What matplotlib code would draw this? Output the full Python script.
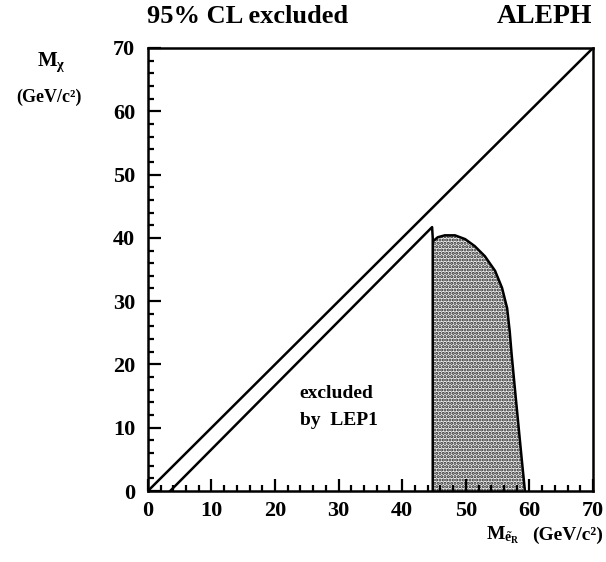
import numpy as np
import matplotlib
matplotlib.use('Agg')
from matplotlib import pyplot as plt
from matplotlib.ticker import MultipleLocator

# kinematic limit M_chi = M_selectron
diag_x = [0, 70]
diag_y = [0, 70]

# LEP1 exclusion edge
lep1_x = [3.5, 44.7, 44.8, 44.8]
lep1_y = [0.0, 41.7, 40.0, 0.0]

# 95% CL excluded region contour
excl_x = [45.0, 45.0, 45.6, 46.7, 48.3, 49.9, 51.4, 53.0, 54.6, 55.7, 56.5, 56.9, 57.2, 57.7, 58.2, 58.8, 59.3]
excl_y = [0.0, 39.6, 40.1, 40.4, 40.4, 39.8, 38.7, 37.1, 34.8, 32.1, 28.9, 25.3, 21.7, 16.4, 11.2, 5.0, 0.0]

plt.rcParams['font.family'] = ['Liberation Serif', 'DejaVu Serif']
plt.rcParams['font.weight'] = 'bold'
plt.rcParams['mathtext.fontset'] = 'custom'
plt.rcParams['mathtext.rm'] = 'Liberation Serif:bold'
plt.rcParams['mathtext.it'] = 'Liberation Serif:bold'
plt.rcParams['mathtext.bf'] = 'Liberation Serif:bold'
plt.rcParams['hatch.linewidth'] = 1.5

fig = plt.figure(figsize=(6.06, 5.62), dpi=100)
ax = fig.add_axes([0.244, 0.1263, 0.7345, 0.7883])

ax.fill(excl_x, excl_y, facecolor='#eeeeee', edgecolor='#222222', hatch='.....', linewidth=0)
ax.plot(excl_x[1:], excl_y[1:], color='black', lw=1.8)
ax.plot(diag_x, diag_y, color='black', lw=1.8)
ax.plot(lep1_x, lep1_y, color='black', lw=1.8)

ax.set_xlim(0, 70)
ax.set_ylim(0, 70)
ax.xaxis.set_major_locator(MultipleLocator(10))
ax.yaxis.set_major_locator(MultipleLocator(10))
ax.xaxis.set_minor_locator(MultipleLocator(2))
ax.yaxis.set_minor_locator(MultipleLocator(2))
ax.tick_params(which='both', direction='in', top=False, right=False, width=1.6, labelsize=16)
ax.tick_params(which='major', length=9)
ax.tick_params(which='minor', length=4.5)
ax.tick_params(axis='y', pad=9)
ax.tick_params(axis='x', pad=7)
for s in ax.spines.values():
    s.set_linewidth(1.8)

ax.text(23.9, 15.4, 'excluded', fontsize=14, ha='left', va='center')
ax.text(23.9, 11.2, 'by  LEP1', fontsize=14, ha='left', va='center')

fig.text(0.243, 0.971, '95% CL excluded', fontsize=19, ha='left', va='center')
fig.text(0.977, 0.971, 'ALEPH', fontsize=20, ha='right', va='center')
fig.text(0.085, 0.89, r'$\mathrm{M}_{\chi}$', fontsize=15, ha='center', va='center')
fig.text(0.08, 0.827, '(GeV/c²)', fontsize=13, ha='center', va='center')
fig.text(0.83, 0.047, r'$\mathrm{M}_{\tilde{e}_R}$', fontsize=14, ha='center', va='center')
fig.text(0.995, 0.047, '(GeV/c²)', fontsize=14, ha='right', va='center')

plt.savefig('out.png', dpi=100)
